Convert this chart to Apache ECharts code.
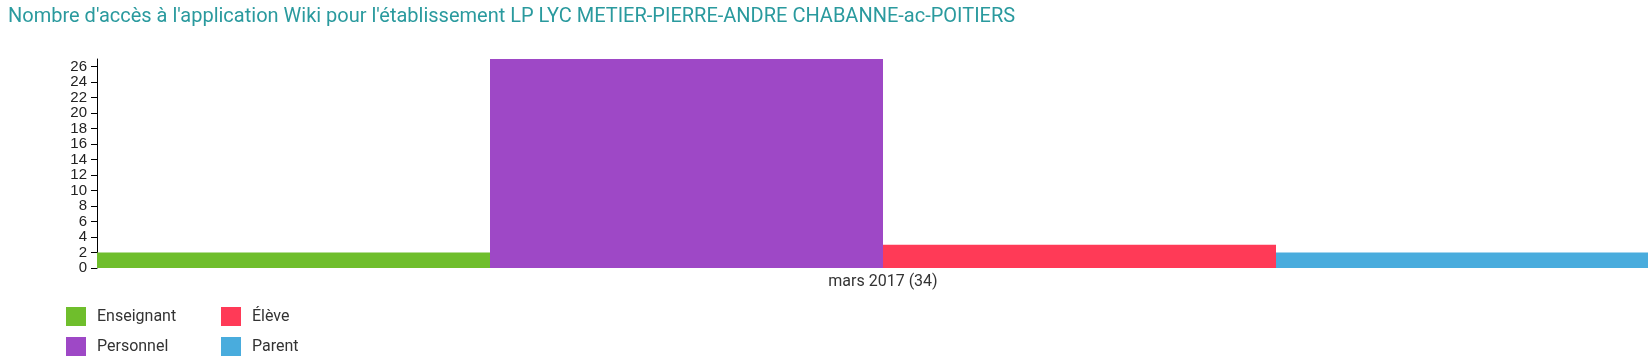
<!DOCTYPE html>
<html>
<head>
<meta charset="utf-8">
<script src="https://cdn.jsdelivr.net/npm/echarts@6/dist/echarts.min.js"></script>
<style>
html,body{margin:0;padding:0;background:#fff;overflow:hidden;}
#chart{width:1669px;height:362px;}
</style>
</head>
<body>
<div id="chart"></div>
<script>
const titleText = "Nombre d'accès à l'application Wiki pour l'établissement LP LYC METIER-PIERRE-ANDRE CHABANNE-ac-POITIERS";
const categories = ["mars 2017 (34)"];
const seriesNames = ["Enseignant", "Personnel", "Élève", "Parent"];
const enseignant = [2];
const personnel = [27];
const eleve = [3];
const parent = [2];
const colors = ["#6fbe2c", "#9e48c6", "#ff3a57", "#49acdd"];
const yMax = 27;
const yInterval = 2;

const values = [enseignant, personnel, eleve, parent];
const legendPos = [[66, 307], [66, 337], [221, 307], [221, 337]];
const chart = echarts.init(document.getElementById('chart'), null, {renderer: 'canvas'});
const legendText = {color: '#333', fontSize: 16, fontFamily: 'Roboto', padding: [0, 0, 0, 6]};
chart.setOption({
  animation: false,
  title: {
    text: titleText,
    left: 3, top: 2,
    textStyle: {color: '#2a9a9e', fontSize: 20, fontWeight: 'normal', fontFamily: 'Roboto'}
  },
  legend: seriesNames.map((n, i) => ({
    data: [n], left: legendPos[i][0], top: legendPos[i][1], padding: 0,
    itemWidth: 20, itemHeight: 19, icon: 'rect', textStyle: legendText
  })),
  grid: {left: 97, right: 0, top: 59, bottom: 94, containLabel: false},
  xAxis: {
    type: 'category',
    data: categories,
    axisLine: {show: false},
    axisTick: {show: false},
    axisLabel: {color: '#333', fontSize: 16, fontFamily: 'Roboto', margin: 6}
  },
  yAxis: {
    type: 'value',
    min: 0, max: yMax, interval: yInterval,
    splitLine: {show: false},
    axisLine: {show: true, lineStyle: {color: '#000', width: 1}},
    axisTick: {show: true, length: 6, lineStyle: {color: '#000'}},
    axisLabel: {color: '#222', fontSize: 15, fontFamily: 'Liberation Sans', margin: 10, showMaxLabel: false}
  },
  series: seriesNames.map((n, i) => ({
    name: n,
    type: 'bar',
    data: values[i],
    barGap: '0%',
    barCategoryGap: '0%',
    itemStyle: {color: colors[i]}
  }))
});
</script>
</body>
</html>
